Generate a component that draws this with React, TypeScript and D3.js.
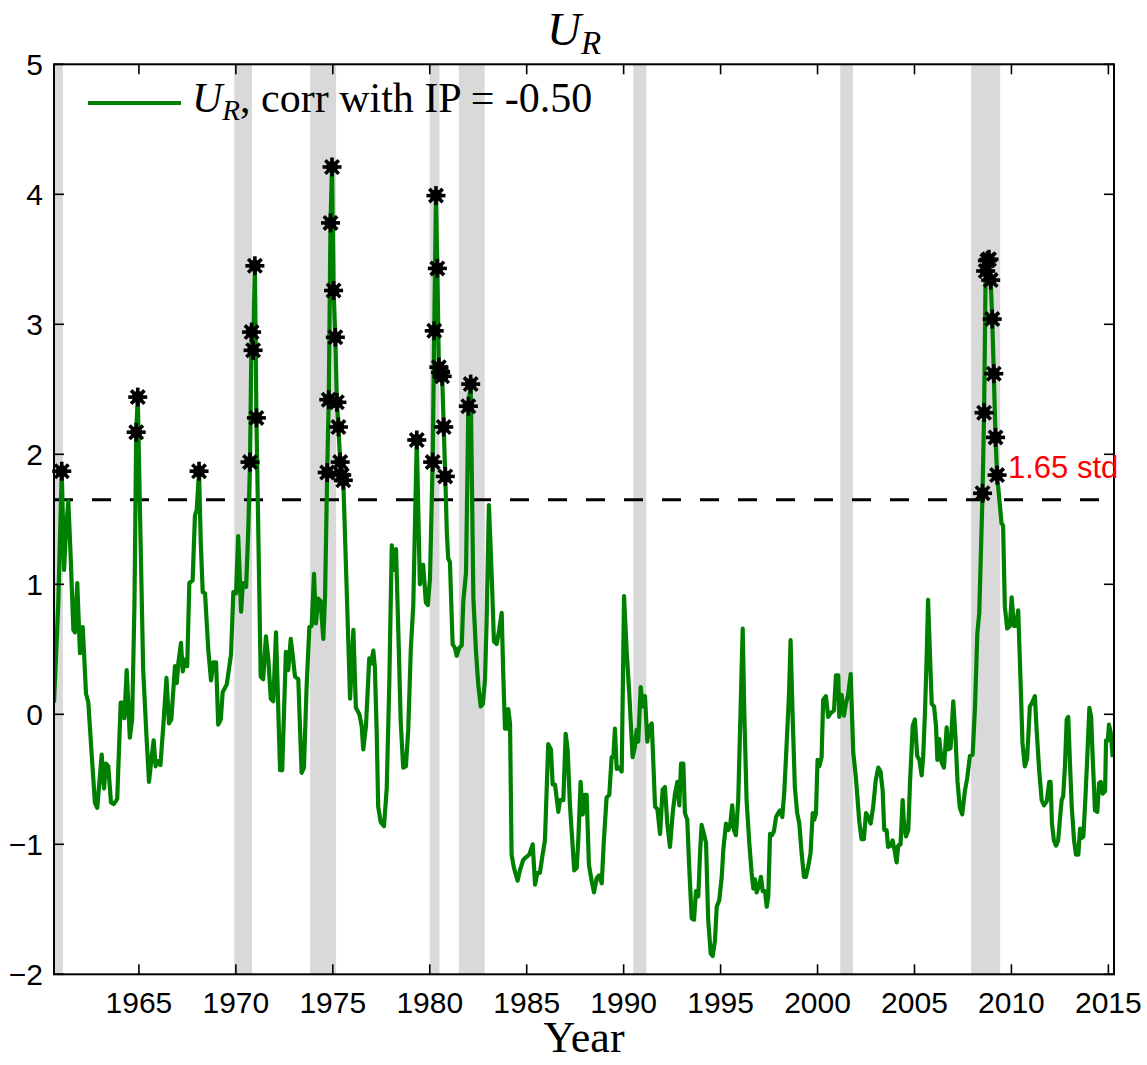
import React from "react";
import * as d3 from "d3";

const years: number[] = [
  1960.62, 1960.84, 1961.02, 1961.14, 1961.24, 1961.36, 1961.48, 1961.62, 1961.70, 1961.82,
  1961.96, 1962.10, 1962.17, 1962.27, 1962.39, 1962.56, 1962.73, 1962.85, 1963.08, 1963.20,
  1963.30, 1963.42, 1963.56, 1963.71, 1963.88, 1964.06, 1964.16, 1964.25, 1964.37, 1964.53,
  1964.65, 1964.77, 1964.86, 1964.94, 1965.08, 1965.22, 1965.39, 1965.52, 1965.64, 1965.76,
  1965.86, 1965.97, 1966.11, 1966.28, 1966.42, 1966.55, 1966.67, 1966.86, 1966.95, 1967.03,
  1967.17, 1967.26, 1967.38, 1967.49, 1967.60, 1967.77, 1967.89, 1967.98, 1968.10, 1968.19,
  1968.29, 1968.41, 1968.58, 1968.72, 1968.84, 1968.98, 1969.09, 1969.22, 1969.32, 1969.53,
  1969.75, 1969.87, 1970.01, 1970.12, 1970.27, 1970.36, 1970.53, 1970.64, 1970.73, 1970.81,
  1970.89, 1970.98, 1971.06, 1971.28, 1971.41, 1971.55, 1971.67, 1971.80, 1971.93, 1972.07,
  1972.28, 1972.39, 1972.58, 1972.70, 1972.83, 1972.95, 1973.05, 1973.22, 1973.39, 1973.51,
  1973.65, 1973.79, 1973.91, 1974.03, 1974.13, 1974.25, 1974.37, 1974.51, 1974.60, 1974.71,
  1974.79, 1974.88, 1974.96, 1975.04, 1975.13, 1975.21, 1975.29, 1975.38, 1975.46, 1975.54,
  1975.89, 1976.06, 1976.19, 1976.37, 1976.49, 1976.57, 1976.71, 1976.88, 1976.98, 1977.09,
  1977.17, 1977.26, 1977.34, 1977.47, 1977.64, 1977.78, 1977.91, 1978.04, 1978.15, 1978.26,
  1978.38, 1978.50, 1978.63, 1978.77, 1978.89, 1979.02, 1979.15, 1979.33, 1979.49, 1979.66,
  1979.80, 1979.90, 1980.01, 1980.15, 1980.23, 1980.32, 1980.39, 1980.47, 1980.56, 1980.64,
  1980.72, 1980.80, 1980.88, 1980.95, 1981.04, 1981.18, 1981.30, 1981.39, 1981.52, 1981.65,
  1981.73, 1981.87, 1981.99, 1982.11, 1982.25, 1982.39, 1982.50, 1982.63, 1982.74, 1982.85,
  1982.93, 1983.05, 1983.19, 1983.31, 1983.45, 1983.57, 1983.71, 1983.79, 1983.88, 1983.97,
  1984.05, 1984.14, 1984.22, 1984.34, 1984.53, 1984.65, 1984.82, 1984.96, 1985.13, 1985.31,
  1985.43, 1985.55, 1985.68, 1985.82, 1985.94, 1986.11, 1986.25, 1986.34, 1986.46, 1986.63,
  1986.72, 1986.89, 1987.01, 1987.11, 1987.23, 1987.35, 1987.45, 1987.58, 1987.66, 1987.78,
  1987.89, 1988.00, 1988.09, 1988.21, 1988.35, 1988.47, 1988.61, 1988.73, 1988.87, 1988.98,
  1989.12, 1989.26, 1989.38, 1989.47, 1989.55, 1989.64, 1989.77, 1989.90, 1990.02, 1990.16,
  1990.29, 1990.46, 1990.58, 1990.67, 1990.75, 1990.88, 1990.98, 1991.10, 1991.22, 1991.32,
  1991.45, 1991.62, 1991.74, 1991.88, 1992.01, 1992.13, 1992.25, 1992.39, 1992.53, 1992.65,
  1992.77, 1992.87, 1992.96, 1993.08, 1993.16, 1993.28, 1993.38, 1993.51, 1993.63, 1993.73,
  1993.85, 1993.94, 1994.02, 1994.14, 1994.25, 1994.36, 1994.49, 1994.59, 1994.71, 1994.80,
  1994.93, 1995.06, 1995.14, 1995.28, 1995.40, 1995.49, 1995.60, 1995.69, 1995.79, 1995.91,
  1996.03, 1996.14, 1996.22, 1996.34, 1996.48, 1996.60, 1996.69, 1996.77, 1996.86, 1996.98,
  1997.08, 1997.17, 1997.29, 1997.38, 1997.46, 1997.55, 1997.65, 1997.75, 1997.86, 1997.97,
  1998.06, 1998.18, 1998.28, 1998.41, 1998.53, 1998.61, 1998.72, 1998.83, 1998.95, 1999.06,
  1999.18, 1999.30, 1999.40, 1999.52, 1999.64, 1999.75, 1999.83, 1999.92, 2000.00, 2000.09,
  2000.21, 2000.29, 2000.43, 2000.55, 2000.68, 2000.85, 2000.95, 2001.07, 2001.12, 2001.24,
  2001.36, 2001.46, 2001.58, 2001.71, 2001.84, 2001.98, 2002.15, 2002.27, 2002.39, 2002.50,
  2002.62, 2002.74, 2002.87, 2003.00, 2003.13, 2003.25, 2003.36, 2003.44, 2003.56, 2003.64,
  2003.77, 2003.87, 2003.99, 2004.08, 2004.16, 2004.28, 2004.39, 2004.45, 2004.56, 2004.68,
  2004.77, 2004.91, 2005.02, 2005.14, 2005.25, 2005.37, 2005.45, 2005.54, 2005.63, 2005.70,
  2005.80, 2005.89, 2006.01, 2006.11, 2006.18, 2006.28, 2006.40, 2006.52, 2006.66, 2006.74,
  2006.86, 2007.00, 2007.12, 2007.22, 2007.34, 2007.46, 2007.60, 2007.72, 2007.86, 2008.00,
  2008.12, 2008.24, 2008.34, 2008.51, 2008.59, 2008.67, 2008.76, 2008.84, 2008.93, 2009.01,
  2009.09, 2009.18, 2009.26, 2009.49, 2009.57, 2009.66, 2009.78, 2009.92, 2010.01, 2010.13,
  2010.23, 2010.35, 2010.47, 2010.57, 2010.69, 2010.81, 2010.95, 2011.07, 2011.21, 2011.30,
  2011.43, 2011.56, 2011.68, 2011.82, 2011.95, 2012.02, 2012.09, 2012.19, 2012.30, 2012.41,
  2012.50, 2012.59, 2012.67, 2012.76, 2012.85, 2012.93, 2013.02, 2013.11, 2013.23, 2013.33,
  2013.45, 2013.54, 2013.63, 2013.71, 2013.81, 2013.92, 2014.02, 2014.11, 2014.19, 2014.31,
  2014.43, 2014.52, 2014.61, 2014.71, 2014.83, 2014.88, 2014.97, 2015.03, 2015.12, 2015.22,
];

const values: number[] = [
  0.09, 0.85, 1.87, 1.11, 1.42, 1.64, 1.21, 0.65, 0.63, 1.01,
  0.47, 0.67, 0.47, 0.16, 0.09, -0.30, -0.68, -0.72, -0.31, -0.57,
  -0.38, -0.40, -0.68, -0.69, -0.65, 0.09, 0.09, -0.03, 0.34, -0.18,
  -0.04, 0.85, 2.17, 2.44, 1.37, 0.34, -0.17, -0.52, -0.35, -0.20,
  -0.40, -0.36, -0.39, -0.04, 0.28, -0.07, -0.04, 0.37, 0.24, 0.39,
  0.55, 0.33, 0.42, 0.37, 1.01, 1.03, 1.53, 1.57, 1.87, 1.32,
  0.94, 0.93, 0.49, 0.26, 0.40, 0.40, -0.08, -0.04, 0.17, 0.23,
  0.46, 0.94, 0.93, 1.37, 0.79, 1.01, 0.98, 1.42, 1.94, 2.94,
  2.80, 3.45, 2.28, 0.29, 0.27, 0.60, 0.43, 0.12, 0.10, 0.63,
  -0.43, -0.43, 0.48, 0.34, 0.58, 0.43, 0.29, 0.27, -0.45, -0.41,
  0.22, 0.67, 0.68, 1.08, 0.70, 0.89, 0.87, 0.58, 0.91, 1.86,
  2.42, 3.78, 4.21, 3.26, 2.90, 2.40, 2.21, 1.94, 1.84, 1.80,
  0.12, 0.65, 0.05, 0.00, -0.09, -0.27, -0.09, 0.43, 0.39, 0.49,
  0.36, -0.12, -0.71, -0.83, -0.86, -0.57, 0.22, 1.30, 1.11, 1.27,
  0.63, -0.05, -0.41, -0.40, -0.12, 0.49, 0.84, 2.11, 1.00, 1.15,
  0.86, 0.84, 1.04, 1.94, 2.95, 3.99, 3.43, 2.67, 2.63, 2.60,
  2.21, 1.83, 1.40, 1.20, 1.17, 0.54, 0.51, 0.45, 0.51, 0.53,
  0.87, 1.09, 2.37, 2.54, 0.89, 0.47, 0.23, 0.06, 0.08, 0.27,
  0.70, 1.61, 1.09, 0.56, 0.54, 0.64, 0.78, 0.31, -0.11, -0.11,
  0.04, -0.07, -1.08, -1.18, -1.28, -1.20, -1.12, -1.10, -1.08, -1.00,
  -1.31, -1.22, -1.22, -1.08, -0.97, -0.23, -0.27, -0.54, -0.54, -0.75,
  -0.66, -0.66, -0.15, -0.27, -0.70, -0.97, -1.20, -1.18, -0.97, -0.52,
  -0.77, -0.62, -0.62, -1.16, -1.28, -1.37, -1.26, -1.24, -1.30, -0.97,
  -0.64, -0.62, -0.33, -0.33, -0.11, -0.42, -0.41, -0.44, 0.91, 0.47,
  0.16, -0.33, -0.25, -0.12, -0.21, 0.21, 0.06, 0.14, -0.21, -0.10,
  -0.07, -0.71, -0.73, -0.92, -0.58, -0.56, -0.84, -1.02, -0.76, -0.61,
  -0.52, -0.70, -0.38, -0.38, -0.76, -0.81, -1.17, -1.57, -1.58, -1.36,
  -1.40, -1.07, -0.85, -0.92, -0.99, -1.58, -1.84, -1.86, -1.74, -1.48,
  -1.43, -1.25, -1.04, -0.84, -0.89, -0.86, -0.70, -0.89, -0.93, -0.66,
  0.03, 0.66, 0.03, -0.66, -0.99, -1.22, -1.34, -1.27, -1.37, -1.32,
  -1.25, -1.36, -1.36, -1.48, -1.40, -0.92, -0.93, -0.90, -0.79, -0.76,
  -0.74, -0.79, -0.61, -0.22, 0.16, 0.57, -0.04, -0.56, -0.76, -0.84,
  -1.07, -1.25, -1.25, -1.17, -1.07, -0.76, -0.81, -0.76, -0.35, -0.40,
  -0.33, 0.11, 0.14, -0.02, 0.01, 0.03, 0.30, 0.30, -0.02, 0.15,
  -0.01, 0.08, 0.15, 0.31, -0.29, -0.49, -0.82, -0.96, -0.96, -0.76,
  -0.79, -0.84, -0.71, -0.51, -0.41, -0.44, -0.59, -0.89, -0.89, -1.02,
  -1.01, -0.97, -1.06, -1.14, -1.01, -1.00, -0.66, -0.82, -0.94, -0.89,
  -0.52, -0.09, -0.04, -0.32, -0.35, -0.47, -0.32, 0.01, 0.45, 0.88,
  0.45, 0.08, 0.06, -0.09, -0.35, -0.19, -0.37, -0.41, -0.10, -0.27,
  -0.26, 0.10, -0.19, -0.52, -0.72, -0.77, -0.59, -0.49, -0.32, -0.31,
  0.05, 0.62, 0.78, 1.70, 2.32, 3.41, 3.49, 3.50, 3.34, 3.04,
  2.62, 2.13, 1.84, 1.47, 1.45, 0.83, 0.66, 0.68, 0.90, 0.68,
  0.68, 0.80, 0.26, -0.22, -0.40, -0.34, 0.06, 0.09, 0.14, -0.12,
  -0.43, -0.66, -0.70, -0.67, -0.52, -0.52, -0.84, -0.97, -1.01, -0.97,
  -0.81, -0.66, -0.63, -0.40, -0.04, -0.02, -0.38, -0.71, -0.97, -1.08,
  -1.08, -0.88, -0.95, -0.94, -0.66, -0.30, 0.05, -0.02, -0.33, -0.74,
  -0.75, -0.53, -0.52, -0.61, -0.59, -0.20, -0.20, -0.08, -0.14, -0.33,
];

const recessionStart: number[] = [1960.25, 1969.92, 1973.83, 1980.0, 1981.5, 1990.5, 2001.17, 2007.92];
const recessionEnd: number[] = [1961.08, 1970.83, 1975.17, 1980.5, 1982.83, 1991.17, 2001.83, 2009.42];

const xTicks: number[] = [1965, 1970, 1975, 1980, 1985, 1990, 1995, 2000, 2005, 2010, 2015];
const yTicks: number[] = [-2, -1, 0, 1, 2, 3, 4, 5];
const threshold = 1.65;
const thresholdLabel = "1.65 std";
const xDomain: [number, number] = [1960.62, 2015.29];
const yDomain: [number, number] = [-2, 5];

const W = 1147;
const H = 1065;
const L = 54, R = 1114, T = 64.3, B = 974.3;

function Star({ cx, cy }: { cx: number; cy: number }) {
  const r = 9.5;
  const angles = [0, 45, 90, 135];
  return (
    <g>
      {angles.map((a) => {
        const rad = (a * Math.PI) / 180;
        const dx = r * Math.cos(rad);
        const dy = r * Math.sin(rad);
        return (
          <line key={a} x1={cx - dx} y1={cy - dy} x2={cx + dx} y2={cy + dy}
            stroke="#000" strokeWidth={3.6} />
        );
      })}
      <circle cx={cx} cy={cy} r={6} fill="#000" />
    </g>
  );
}

export default function App() {
  const x = d3.scaleLinear().domain(xDomain).range([L, R]);
  const y = d3.scaleLinear().domain(yDomain).range([B, T]);
  const pts = years.map((yr, i) => ({ yr, v: values[i] }));
  const line = d3.line<{ yr: number; v: number }>().x((d) => x(d.yr)).y((d) => y(d.v));
  const marks = pts.filter((p) => p.v > threshold);
  const sans = "'Liberation Sans', Arial, Helvetica, sans-serif";
  const serif = "'Liberation Serif', 'Times New Roman', serif";

  return (
    <svg width={W} height={H} viewBox={`0 0 ${W} ${H}`}
      style={{ position: "absolute", left: 0, top: 0, background: "#fff" }}>
      <defs>
        <clipPath id="plotclip">
          <rect x={L} y={T} width={R - L} height={B - T} />
        </clipPath>
      </defs>
      <rect x={0} y={0} width={W} height={H} fill="#fff" />
      <g clipPath="url(#plotclip)">
        {recessionStart.map((s, i) => (
          <rect key={i} x={x(s)} y={T} width={x(recessionEnd[i]) - x(s)} height={B - T} fill="#d9d9d9" />
        ))}
        <line x1={L} x2={R} y1={y(threshold)} y2={y(threshold)} stroke="#000" strokeWidth={3}
          strokeDasharray="19,19" />
        <path d={line(pts) || ""} fill="none" stroke="#008000" strokeWidth={4.2} strokeLinejoin="round" />
      </g>
      {marks.map((p, i) => (
        <Star key={i} cx={x(p.yr)} cy={y(p.v)} />
      ))}
      <rect x={L} y={T} width={R - L} height={B - T} fill="none" stroke="#000" strokeWidth={2} />
      {xTicks.map((t) => (
        <g key={t}>
          <line x1={x(t)} x2={x(t)} y1={B} y2={B - 10} stroke="#000" strokeWidth={1.6} />
          <line x1={x(t)} x2={x(t)} y1={T} y2={T + 10} stroke="#000" strokeWidth={1.6} />
          <text x={x(t)} y={1013} textAnchor="middle" fontFamily={sans} fontSize={30} fill="#000">{t}</text>
        </g>
      ))}
      {yTicks.map((t) => (
        <g key={t}>
          <line x1={L} x2={L + 10} y1={y(t)} y2={y(t)} stroke="#000" strokeWidth={1.6} />
          <line x1={R} x2={R - 10} y1={y(t)} y2={y(t)} stroke="#000" strokeWidth={1.6} />
          <text x={43} y={y(t) + 10.5} textAnchor="end" fontFamily={sans} fontSize={30} fill="#000">
            {t < 0 ? `\u2212${Math.abs(t)}` : `${t}`}
          </text>
        </g>
      ))}
      <text x={1008} y={478} fontFamily={sans} fontSize={31} fill="#ff0000">{thresholdLabel}</text>
      <line x1={88} x2={181} y1={103} y2={103} stroke="#008000" strokeWidth={4.2} />
      <text x={192} y={112} fontFamily={serif} fontSize={42} fill="#000">
        <tspan fontStyle="italic">U</tspan>
        <tspan fontStyle="italic" fontSize={29} dy={8}>R</tspan>
        <tspan dy={-8}>, corr with IP = -0.50</tspan>
      </text>
      <text x={574} y={45} textAnchor="middle" fontFamily={serif} fontSize={47} fill="#000">
        <tspan fontStyle="italic">U</tspan>
        <tspan fontStyle="italic" fontSize={33} dy={9}>R</tspan>
      </text>
      <text x={584} y={1052} textAnchor="middle" fontFamily={serif} fontSize={44} fill="#000">Year</text>
    </svg>
  );
}
